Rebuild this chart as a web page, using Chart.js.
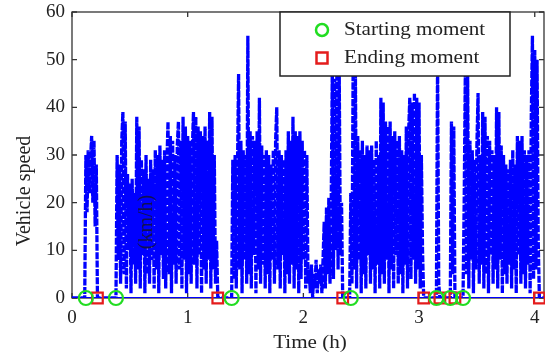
<!DOCTYPE html>
<html lang="en">
<head>
    <meta charset="UTF-8">
    <title>Vehicle speed</title>
    <script src="https://cdn.jsdelivr.net/npm/chart.js"></script>
    <style>
        body { margin: 0; background: #fff; }
        canvas { display: block; }
    </style>
</head>
<body>
    <canvas id="speedChart" width="545" height="358"></canvas>

    <script>
    // speed samples (km/h), one every 0.01 h
    const step = 0.01;
    const speed = [
        0, 0, 0, 0, 0, 0, 0, 0, 0, 0, 0, 0,
        // trip 1
        30, 18, 31, 22, 29, 34, 20, 33, 15, 28, 0,
        0, 0, 0, 0, 0, 0, 0, 0, 0, 0, 0, 0, 0, 0, 0,
        // trip 2
        0, 30, 8, 28, 3, 33, 39, 5, 37, 2, 26, 10, 24, 1, 25, 7, 22, 3, 38, 6,
        36, 2, 29, 9, 27, 1, 30, 5, 25, 3, 29, 8, 27, 2, 31, 6, 30, 1, 32, 9,
        29, 4, 31, 2, 28, 37, 5, 34, 1, 33, 7, 30, 3, 32, 37, 6, 33, 2, 38, 8,
        36, 1, 34, 5, 33, 3, 31, 39, 7, 38, 2, 36, 9, 35, 1, 34, 6, 36, 3, 33,
        8, 39, 2, 38, 6, 30, 3, 12, 0,
        0, 0, 0, 0, 0, 0, 0, 0, 0, 0, 0,
        // trip 3
        0, 29, 4, 30, 2, 26, 47, 6, 33, 1, 31, 8, 30, 3, 55, 5, 35, 2, 34, 9,
        33, 1, 35, 6, 42, 3, 32, 7, 30, 2, 31, 5, 30, 1, 28, 8, 31, 3, 33, 40,
        6, 31, 2, 30, 9, 29, 1, 31, 5, 35, 3, 33, 7, 38, 2, 35, 6, 34, 1, 35,
        4, 33, 8, 31, 2, 30, 3, 6, 1, 7, 0, 5, 2, 8, 1, 6, 3, 7, 1, 8,
        16, 2, 19, 5, 21, 3, 18, 48, 4, 46, 10, 49, 6, 47, 9, 20, 0,
        0, 0, 0, 0, 0, 0,
        // trip 4
        22, 3, 48, 6, 47, 2, 34, 8, 31, 1, 33, 5, 30, 2, 32, 9, 31, 3, 32, 6,
        29, 1, 33, 7, 30, 2, 42, 5, 41, 3, 37, 8, 36, 1, 37, 6, 34, 2, 35, 9,
        33, 3, 34, 5, 31, 1, 30, 7, 36, 2, 35, 42, 4, 41, 8, 43, 3, 42, 6, 41,
        2, 30, 10, 0,
        0, 0, 0, 0, 0, 0, 0, 0, 0, 0, 0,
        // short trips
        50, 3, 0,
        0, 0, 0, 0, 0, 0, 0, 0, 0,
        37, 5, 36, 0,
        0, 0, 0, 0, 0, 0, 0,
        // last trip
        20, 48, 5, 47, 2, 33, 8, 31, 1, 29, 6, 32, 43, 3, 30, 7, 39, 2, 38, 5,
        34, 1, 33, 9, 31, 3, 30, 6, 40, 2, 39, 8, 32, 1, 30, 5, 28, 3, 27, 7,
        29, 2, 31, 6, 28, 1, 34, 9, 33, 3, 34, 5, 31, 2, 30, 7, 31, 1, 38, 55,
        4, 52, 6, 50, 12, 0,
        0, 0, 0, 0
    ];
    const startTimes = [0.12, 0.38, 1.38, 2.41, 3.15, 3.27, 3.38];
    const endTimes = [0.22, 1.26, 2.34, 3.04, 3.18, 3.31, 4.04];
    const xTicks = [0, 1, 2, 3, 4];
    const yTicks = [0, 10, 20, 30, 40, 50, 60];
    const xMax = 4.08;

    const FONT = 'Liberation Serif, Times New Roman, serif';
    const TEXT = '#222';
    const BLUE = '#0000ff';
    const GREEN = '#22dd22';
    const RED = '#e41c1c';

    const speedPoints = speed.map((v, i) => ({ x: i * step, y: v }));

    // draws text a bit wider than normal, like the scanned figure
    function wideText(ctx, str, x, y, sx) {
        ctx.save();
        ctx.translate(x, y);
        ctx.scale(sx, 1);
        ctx.fillText(str, 0, 0);
        ctx.restore();
    }

    const decor = {
        id: 'decor',
        beforeDatasetsDraw(chart) {
            const { ctx, chartArea: a, scales: { x, y } } = chart;
            ctx.save();
            ctx.strokeStyle = '#333';
            ctx.lineWidth = 1.3;
            ctx.strokeRect(a.left, a.top, a.right - a.left, a.bottom - a.top);
            ctx.beginPath();
            yTicks.forEach(v => {
                const py = y.getPixelForValue(v);
                ctx.moveTo(a.left, py); ctx.lineTo(a.left + 5, py);
                ctx.moveTo(a.right, py); ctx.lineTo(a.right - 5, py);
            });
            xTicks.forEach(v => {
                const px = x.getPixelForValue(v);
                ctx.moveTo(px, a.bottom); ctx.lineTo(px, a.bottom - 5);
                ctx.moveTo(px, a.top); ctx.lineTo(px, a.top + 5);
            });
            ctx.stroke();
            ctx.restore();
        },
        afterDatasetsDraw(chart) {
            const { ctx } = chart;
            ctx.save();
            ctx.fillStyle = TEXT;
            ctx.textBaseline = 'middle';

            // axis titles
            ctx.textAlign = 'center';
            ctx.font = '19px ' + FONT;
            wideText(ctx, 'Time (h)', 310, 343, 1.11);
            ctx.save();
            ctx.translate(25, 191);
            ctx.rotate(-Math.PI / 2);
            ctx.font = '20px ' + FONT;
            ctx.fillText('Vehicle speed', 0, 0);
            ctx.restore();

            // stray unit label sitting inside the plot
            ctx.save();
            ctx.translate(147, 222);
            ctx.rotate(-Math.PI / 2);
            ctx.font = '20px ' + FONT;
            ctx.fillStyle = 'rgba(20,20,50,0.85)';
            ctx.fillText('(km/h)', 0, 0);
            ctx.restore();

            // legend
            ctx.fillStyle = '#fff';
            ctx.fillRect(280, 12, 230, 64);
            ctx.strokeStyle = '#222';
            ctx.lineWidth = 1.5;
            ctx.strokeRect(280, 12, 230, 64);

            ctx.lineWidth = 2.5;
            ctx.strokeStyle = GREEN;
            ctx.beginPath();
            ctx.arc(322, 30, 6, 0, Math.PI * 2);
            ctx.stroke();
            ctx.strokeStyle = RED;
            ctx.strokeRect(316.5, 52.5, 11, 11);

            ctx.fillStyle = TEXT;
            ctx.textAlign = 'left';
            ctx.font = '19px ' + FONT;
            wideText(ctx, 'Starting moment', 344, 30, 1.11);
            wideText(ctx, 'Ending moment', 344, 58, 1.11);
            ctx.restore();
        }
    };

    new Chart(document.getElementById('speedChart'), {
        type: 'line',
        data: {
            datasets: [
                {
                    label: 'Starting moment',
                    data: startTimes.map(t => ({ x: t, y: 0 })),
                    showLine: false,
                    pointStyle: 'circle',
                    pointRadius: 7,
                    pointBorderWidth: 2.2,
                    borderColor: GREEN,
                    backgroundColor: 'rgba(0,0,0,0)',
                    clip: false
                },
                {
                    label: 'Ending moment',
                    data: endTimes.map(t => ({ x: t, y: 0 })),
                    showLine: false,
                    pointStyle: 'rect',
                    pointRadius: 7.5,
                    pointBorderWidth: 2.2,
                    borderColor: RED,
                    backgroundColor: 'rgba(0,0,0,0)',
                    clip: false
                },
                {
                    label: 'Vehicle speed',
                    data: speedPoints,
                    borderColor: BLUE,
                    borderWidth: 3.3,
                    borderDash: [7, 1.4],
                    pointRadius: 0,
                    tension: 0
                },
                {
                    label: 'zero',
                    data: [{ x: 0, y: 0 }, { x: xMax, y: 0 }],
                    borderColor: BLUE,
                    borderWidth: 2,
                    pointRadius: 0
                }
            ]
        },
        options: {
            responsive: false,
            animation: false,
            devicePixelRatio: 1,
            layout: { autoPadding: false, padding: { top: 12, right: 1, left: 0, bottom: 0 } },
            plugins: {
                legend: { display: false },
                tooltip: { enabled: false }
            },
            scales: {
                x: {
                    type: 'linear',
                    min: 0,
                    max: xMax,
                    afterBuildTicks: s => { s.ticks = xTicks.map(v => ({ value: v })); },
                    afterFit: s => { s.height = 60; s.paddingLeft = 0; s.paddingRight = 0; },
                    grid: { display: false, drawTicks: false },
                    border: { display: false },
                    ticks: { color: TEXT, padding: 9, font: { family: FONT, size: 19 } }
                },
                y: {
                    min: 0,
                    max: 60,
                    afterBuildTicks: s => { s.ticks = yTicks.map(v => ({ value: v })); },
                    afterFit: s => { s.width = 72; s.paddingTop = 0; s.paddingBottom = 0; },
                    grid: { display: false, drawTicks: false },
                    border: { display: false },
                    ticks: { color: TEXT, padding: 7, font: { family: FONT, size: 19 } }
                }
            }
        },
        plugins: [decor]
    });
    </script>
</body>
</html>
